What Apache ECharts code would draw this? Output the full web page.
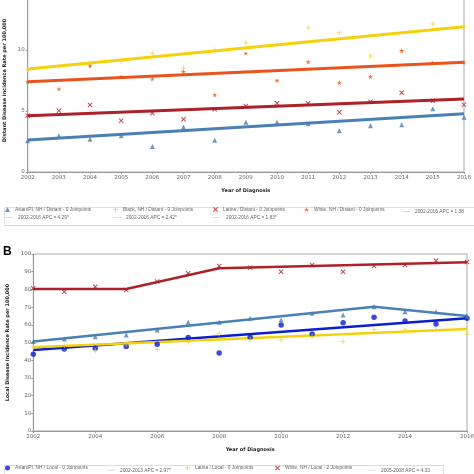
<!DOCTYPE html>
<html><head><meta charset="utf-8">
<script src="https://cdn.jsdelivr.net/npm/echarts@6/dist/echarts.min.js"></script>
<style>html,body{margin:0;padding:0;background:#fff}#c{width:474px;height:474px}</style>
</head><body><div id="c"></div>
<script>
// ---- data ----
const years = [2002,2003,2004,2005,2006,2007,2008,2009,2010,2011,2012,2013,2014,2015,2016];
const distantTicks = [0,5,10];
const localTicks = [0,10,20,30,40,50,60,70,80,90,100];

// Panel A (distant)
const asianDistant  = [2.57,2.98,2.68,2.98,2.08,3.69,2.60,4.07,4.07,3.95,3.39,3.80,3.88,5.19,4.48];
const blackDistant  = [8.36,8.63,8.85,9.05,9.73,8.50,10.0,10.6,10.41,11.83,11.42,9.51,9.95,12.13,11.91];
const latinaDistant = [4.62,5.03,5.49,4.21,4.81,4.32,5.14,5.41,5.63,5.63,4.89,5.76,6.50,5.84,5.52];
const whiteDistant  = [7.40,6.80,8.69,7.81,7.62,8.22,6.31,9.73,7.51,9.02,7.32,7.81,9.94,8.96,8.99];
const fitYearsA = [2002,2016];
const asianDistantFit  = [2.62,4.78];
const blackDistantFit  = [8.44,11.90];
const latinaDistantFit = [4.62,5.98];
const whiteDistantFit  = [7.40,8.99];

// Panel B (local)
const asianLocal  = [43.3,46.3,46.8,47.8,49.0,52.8,44.0,53.0,59.9,54.8,61.2,64.2,62.1,60.5,63.7];
const blackLocal  = [50.5,52.0,53.3,54.2,57.1,61.4,61.4,63.7,62.7,66.5,65.5,70.2,67.4,67.4,65.0];
const latinaLocal = [47.6,48.2,45.2,49.2,46.1,50.1,55.0,51.6,51.4,53.3,50.5,57.4,57.1,57.4,54.6];
const whiteLocal  = [80.6,78.7,81.5,79.7,84.4,89.1,93.2,92.3,90.0,93.8,90.0,93.2,93.8,96.2,95.5];
const asianLocalFitYears  = [2002,2016];       const asianLocalFit  = [45.8,63.7];
const blackLocalFitYears  = [2002,2013,2016];  const blackLocalFit  = [50.5,70.2,65.0];
const latinaLocalFitYears = [2002,2016];       const latinaLocalFit = [47.3,57.6];
const whiteLocalFitYears  = [2002,2005,2008,2016]; const whiteLocalFit = [80.2,80.2,91.9,95.3];

// ---- styles ----
const C = {steel:'#4a80b3', yellow:'#f3d20c', orange:'#e9541d', dred:'#ad2128', blue:'#0a1ed0'};
const PLUS = 'path://M0,4H10V6H0ZM4,0H6V10H4Z';
const XMARK = 'path://M1.4,0L5,3.6L8.6,0L10,1.4L6.4,5L10,8.6L8.6,10L5,6.4L1.4,10L0,8.6L3.6,5L0,1.4Z';
const STAR = 'path://M5,0L6.2,3.4L9.8,3.4L6.9,5.6L7.9,9.2L5,7L2.1,9.2L3.1,5.6L0.2,3.4L3.8,3.4Z';
const pairs = (xs, ys) => xs.map((x,i)=>[x, ys[i]]);

function scatter(name, vals, idx, symbol, color, size){
  return {type:'scatter', name, xAxisIndex:idx, yAxisIndex:idx, data:pairs(years, vals),
    symbol, symbolSize:size, itemStyle:{color}, z:5, silent:true};
}
function fit(name, xs, vals, idx, color, w){
  return {type:'line', name, xAxisIndex:idx, yAxisIndex:idx, data:pairs(xs, vals),
    symbol:'none', lineStyle:{color, width:w}, itemStyle:{color}, z:3, silent:true};
}

const axLabel = {color:'#666', fontSize:5.5, fontFamily:'DejaVu Sans', margin:3};
const axLine = {lineStyle:{color:'#999', width:1}};
const nameStyle = {fontSize:5, fontWeight:'bold', fontFamily:'DejaVu Sans', color:'#222'};

function legendItem(name, icon, left, top, opts, itemColor){
  const d = {name, icon};
  if (itemColor) d.itemStyle = {color:itemColor};
  return Object.assign({
    data:[d], left, top, orient:'horizontal', padding:0,
    itemWidth:5, itemHeight:5, itemGap:3, selectedMode:false,
    textStyle:{fontSize:4.8, color:'#666', fontFamily:'Liberation Sans'}
  }, opts||{});
}
const lineLeg = {itemWidth:8, itemHeight:0.6};
const LG = '#c8c8c8';

const option = {
  animation:false,
  backgroundColor:'#fff',
  grid:[
    {left:27.7, right:10, top:-11, height:183, show:true, borderColor:'#aaa', borderWidth:1, outerBoundsMode:'none', containLabel:false},
    {left:33.3, right:7, top:254, height:177, show:true, borderColor:'#aaa', borderWidth:1, outerBoundsMode:'none', containLabel:false}
  ],
  xAxis:[
    {type:'value', gridIndex:0, min:2002, max:2016, interval:1, splitLine:{show:false},
     axisLine:axLine, axisTick:{show:true, length:2, lineStyle:{color:'#999'}},
     axisLabel:Object.assign({formatter:v=>String(v)}, axLabel),
     name:'Year of Diagnosis', nameLocation:'middle', nameGap:16.5, nameTextStyle:nameStyle},
    {type:'value', gridIndex:1, min:2002, max:2016, interval:2, splitLine:{show:false},
     axisLine:axLine, axisTick:{show:true, length:2, lineStyle:{color:'#999'}},
     axisLabel:Object.assign({formatter:v=>String(v)}, axLabel),
     name:'Year of Diagnosis', nameLocation:'middle', nameGap:16.5, nameTextStyle:nameStyle}
  ],
  yAxis:[
    {type:'value', gridIndex:0, min:0, max:15, interval:5, splitLine:{show:false},
     axisLine:Object.assign({show:true}, axLine), axisTick:{show:true, length:2, lineStyle:{color:'#999'}},
     axisLabel:Object.assign({formatter:v=>distantTicks.includes(v)?String(v):''}, axLabel),
     name:'Distant Disease Incidence Rate per 100,000', nameLocation:'middle', nameGap:17, nameTextStyle:nameStyle},
    {type:'value', gridIndex:1, min:0, max:100, interval:10, splitLine:{show:false},
     axisLine:Object.assign({show:true}, axLine), axisTick:{show:true, length:2, lineStyle:{color:'#999'}},
     axisLabel:Object.assign({formatter:v=>localTicks.includes(v)?String(v):''}, axLabel, {margin:2}),
     name:'Local Disease Incidence Rate per 100,000', nameLocation:'middle', nameGap:20.5, nameTextStyle:nameStyle}
  ],
  legend:[
    legendItem('Asian/PI, NH / Distant - 0 Joinpoints','triangle',5,207),
    legendItem('Black, NH / Distant - 0 Joinpoints',PLUS,113,207),
    legendItem('Latina / Distant - 0 Joinpoints',XMARK,213,207),
    legendItem('White, NH / Distant - 0 Joinpoints',STAR,304,207),
    legendItem('2002-2016 APC = 1.38','rect',402,209.2,lineLeg,LG),
    legendItem('2002-2016 APC = 4.29*','rect',5,215.2,lineLeg,LG),
    legendItem('2002-2016 APC = 2.42*','rect',113,215.2,lineLeg,LG),
    legendItem('2002-2016 APC = 1.83*','rect',213,215.2,lineLeg,LG),
    legendItem('Asian/PI, NH / Local - 0 Joinpoints','circle',5,465.5),
    legendItem('2002-2013 APC = 2.97*','rect',107,467.7,lineLeg,LG),
    legendItem('Latina / Local - 0 Joinpoints',PLUS,185,465.5),
    legendItem('White, NH / Local - 2 Joinpoints',XMARK,275,465.5),
    legendItem('2005-2008 APC = 4.33','rect',368,467.7,lineLeg,LG)
  ],
  graphic:[
    {type:'rect', left:2, top:205, shape:{width:471, height:18}, style:{fill:'none', stroke:'#ddd', lineWidth:1}, z:-1},
    {type:'rect', left:2, top:463, shape:{width:439, height:14}, style:{fill:'none', stroke:'#ddd', lineWidth:1}, z:-1},
    {type:'text', left:3, top:246, style:{text:'B', font:'bold 12px "Liberation Sans"', fill:'#000'}}
  ],
  series:[
    fit('2002-2016 APC = 4.29*', fitYearsA, asianDistantFit, 0, C.steel, 3),
    fit('2002-2016 APC = 2.42*', fitYearsA, blackDistantFit, 0, C.yellow, 3),
    fit('2002-2016 APC = 1.83*', fitYearsA, latinaDistantFit, 0, C.dred, 3),
    fit('2002-2016 APC = 1.38', fitYearsA, whiteDistantFit, 0, C.orange, 3),
    scatter('Asian/PI, NH / Distant - 0 Joinpoints', asianDistant, 0, 'triangle', C.steel, 5),
    scatter('Black, NH / Distant - 0 Joinpoints', blackDistant, 0, PLUS, '#f0d43a', 5),
    scatter('Latina / Distant - 0 Joinpoints', latinaDistant, 0, XMARK, C.dred, 5),
    scatter('White, NH / Distant - 0 Joinpoints', whiteDistant, 0, STAR, C.orange, 5),

    fit('Asian/PI Local fit', asianLocalFitYears, asianLocalFit, 1, C.blue, 2.5),
    fit('2002-2013 APC = 2.97*', blackLocalFitYears, blackLocalFit, 1, C.steel, 2.5),
    fit('Latina Local fit', latinaLocalFitYears, latinaLocalFit, 1, C.yellow, 2.5),
    fit('2005-2008 APC = 4.33', whiteLocalFitYears, whiteLocalFit, 1, C.dred, 2.5),
    scatter('Asian/PI, NH / Local - 0 Joinpoints', asianLocal, 1, 'circle', C.blue, 5.5),
    scatter('Black, NH / Local - 1 Joinpoint', blackLocal, 1, 'triangle', C.steel, 5),
    scatter('Latina / Local - 0 Joinpoints', latinaLocal, 1, PLUS, '#f0d43a', 5),
    scatter('White, NH / Local - 2 Joinpoints', whiteLocal, 1, XMARK, C.dred, 5)
  ]
};
const chart = echarts.init(document.getElementById('c'), null, {renderer:'canvas'});
chart.setOption(option);
</script>
</body></html>
